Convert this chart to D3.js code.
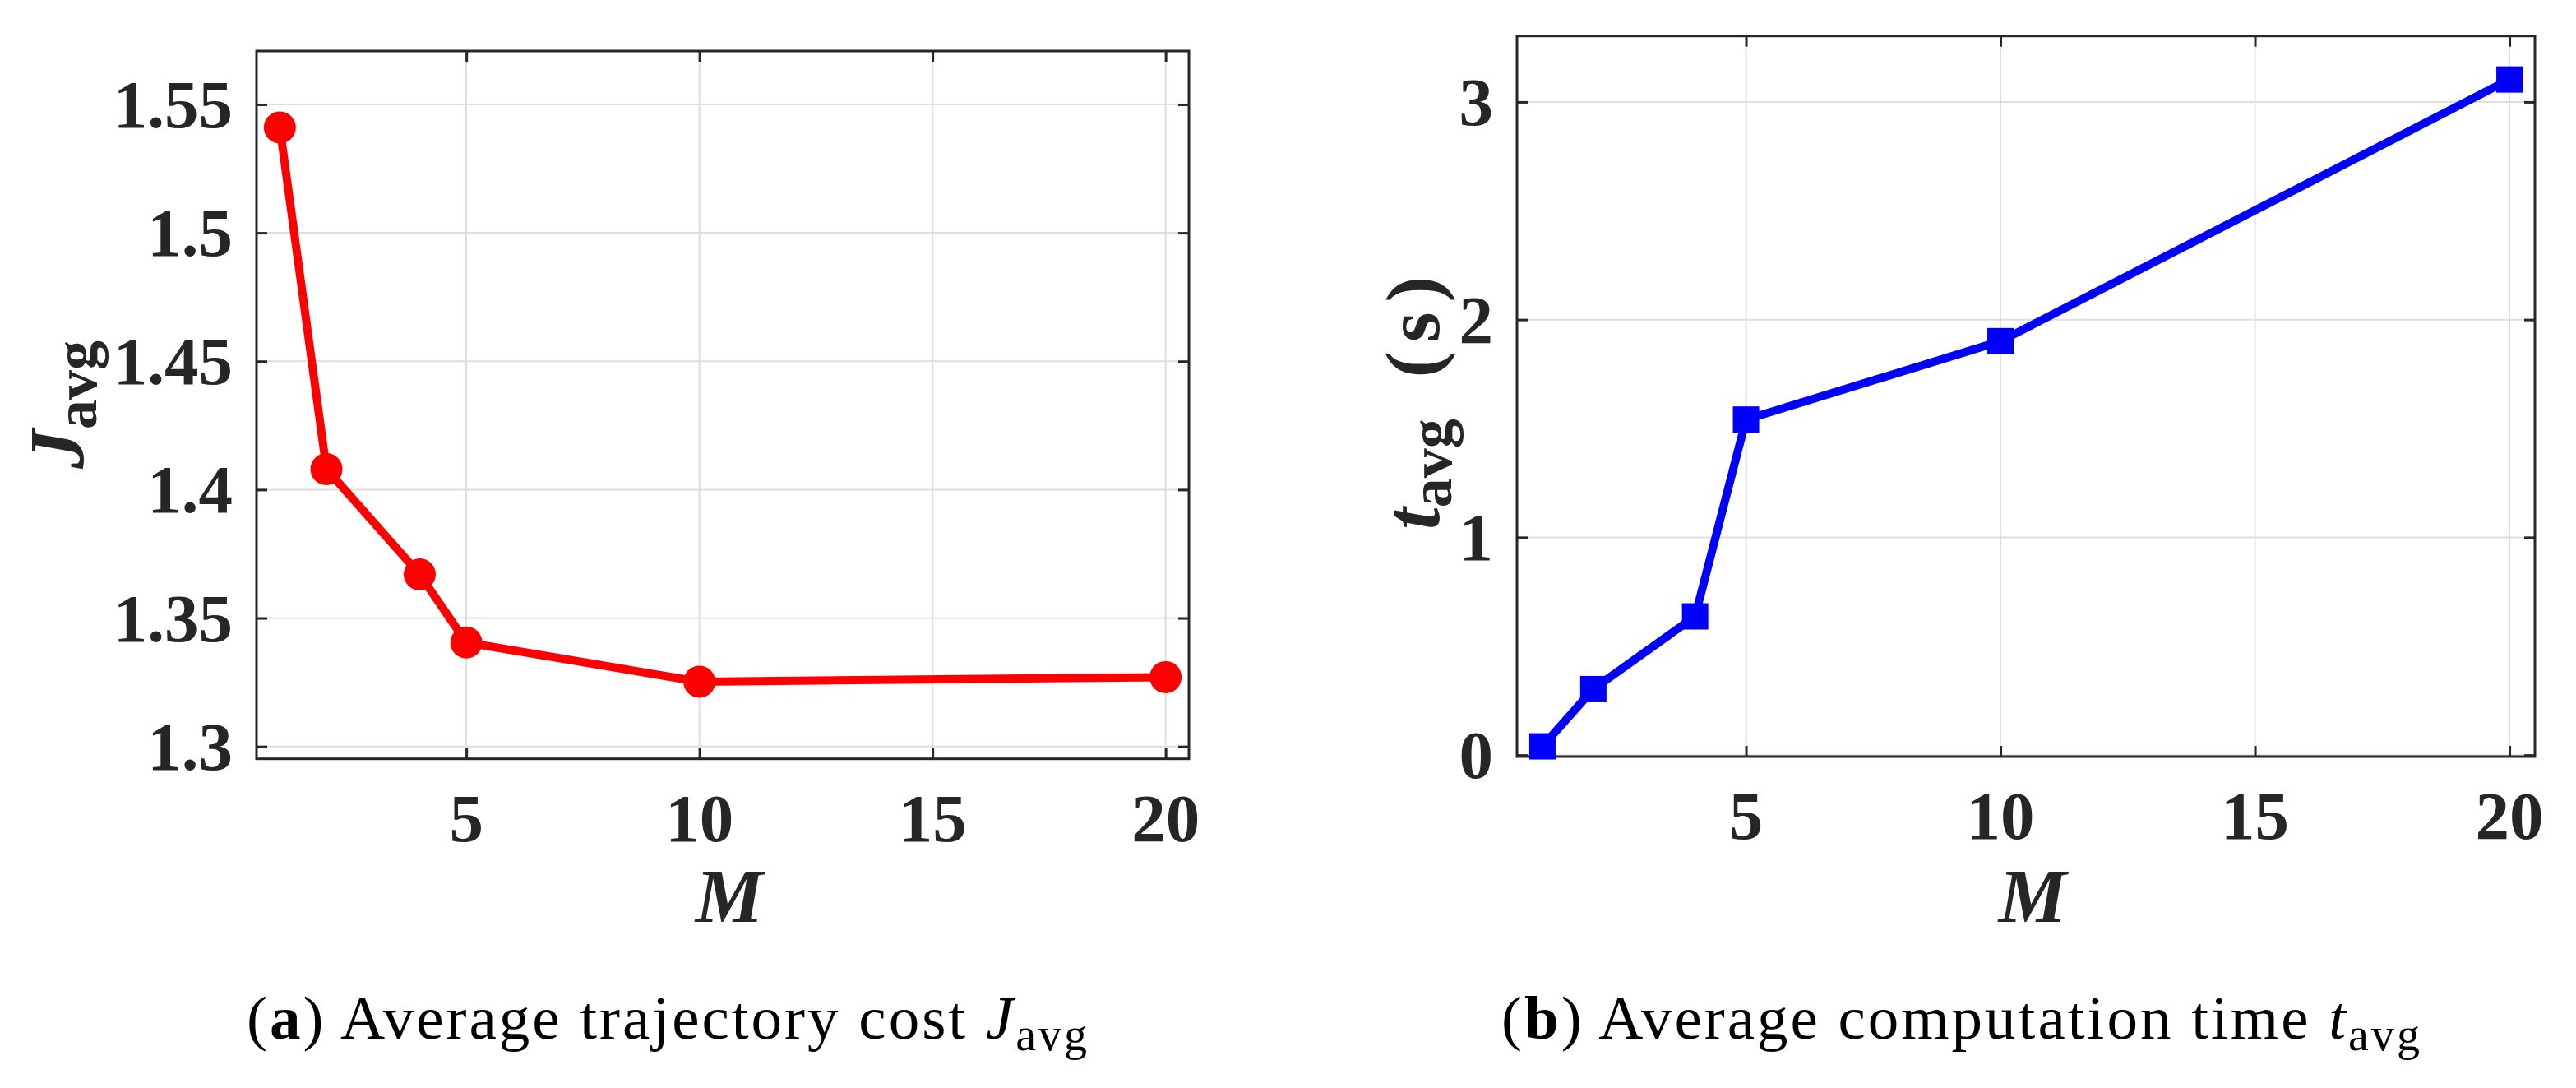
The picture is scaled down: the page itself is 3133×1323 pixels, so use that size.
<!DOCTYPE html>
<html>
<head>
<meta charset="utf-8">
<script src="https://cdn.jsdelivr.net/npm/d3@7"></script>
<style>
  html, body { margin: 0; padding: 0; background: #fff; }
  svg { display: block; }
</style>
</head>
<body>
<svg id="chart" width="3133" height="1323"></svg>
<script>
// ---- data ----
const M = [1, 2, 4, 5, 10, 20];
const Javg = [1.541, 1.408, 1.367, 1.3405, 1.3252, 1.3270];
const tavg = [0.04, 0.303, 0.637, 1.541, 1.901, 3.103];
const xTicks = [5, 10, 15, 20];
const yTicksA = [1.3, 1.35, 1.4, 1.45, 1.5, 1.55];
const yTickLabelsA = ["1.3", "1.35", "1.4", "1.45", "1.5", "1.55"];
const yTicksB = [0, 1, 2, 3];
const yTickLabelsB = ["0", "1", "2", "3"];

const svg = d3.select("#chart");
const TXT = "#262626";
const FONT = "'Liberation Serif', 'Times New Roman', serif";

function panel(cfg) {
  const { left, right, top, bottom, xDomain, yDomain, yTicks, yLabels, data, color, marker } = cfg;
  const x = d3.scaleLinear().domain(xDomain).range([left, right]);
  const y = d3.scaleLinear().domain(yDomain).range([bottom, top]);
  const g = svg.append("g");

  // grid
  g.append("g").selectAll("line.gx").data(xTicks).join("line")
    .attr("x1", d => x(d)).attr("x2", d => x(d))
    .attr("y1", top).attr("y2", bottom)
    .attr("stroke", "#dedede").attr("stroke-width", 2);
  g.append("g").selectAll("line.gy").data(yTicks).join("line")
    .attr("x1", left).attr("x2", right)
    .attr("y1", d => y(d)).attr("y2", d => y(d))
    .attr("stroke", "#dedede").attr("stroke-width", 2);

  // axes via d3 axis (inner ticks)
  const tl = 13;
  const axB = d3.axisBottom(x).tickValues(xTicks).tickSize(-tl).tickFormat("");
  const axT = d3.axisTop(x).tickValues(xTicks).tickSize(-tl).tickFormat("");
  const axL = d3.axisLeft(y).tickValues(yTicks).tickSize(-tl).tickFormat("");
  const axR = d3.axisRight(y).tickValues(yTicks).tickSize(-tl).tickFormat("");
  [[axB, `translate(0,${bottom})`], [axT, `translate(0,${top})`],
   [axL, `translate(${left},0)`], [axR, `translate(${right},0)`]].forEach(([ax, tr]) => {
    const a = g.append("g").attr("transform", tr).call(ax);
    a.select(".domain").remove();
    a.selectAll(".tick line").attr("stroke", TXT).attr("stroke-width", 3);
  });

  // box
  g.append("rect").attr("x", left).attr("y", top)
    .attr("width", right - left).attr("height", bottom - top)
    .attr("fill", "none").attr("stroke", TXT).attr("stroke-width", 3);

  // tick labels
  g.append("g").selectAll("text").data(xTicks).join("text")
    .attr("x", d => x(d)).attr("y", bottom + 100)
    .attr("text-anchor", "middle")
    .attr("font-family", FONT).attr("font-weight", "bold").attr("font-size", 83)
    .attr("fill", TXT).text(d => d);
  g.append("g").selectAll("text").data(yTicks).join("text")
    .attr("x", left - 29).attr("y", d => y(d) + 28)
    .attr("text-anchor", "end")
    .attr("font-family", FONT).attr("font-weight", "bold").attr("font-size", 83)
    .attr("fill", TXT).text((d, i) => yLabels[i]);

  // line
  const pts = M.map((m, i) => [m, data[i]]);
  g.append("path").datum(pts)
    .attr("d", d3.line().x(d => x(d[0])).y(d => y(d[1])))
    .attr("fill", "none").attr("stroke", color).attr("stroke-width", 10)
    .attr("stroke-linejoin", "round");

  if (marker === "circle") {
    g.append("g").selectAll("circle").data(pts).join("circle")
      .attr("cx", d => x(d[0])).attr("cy", d => y(d[1])).attr("r", 19.5)
      .attr("fill", color);
  } else {
    const s = 32;
    g.append("g").selectAll("rect").data(pts).join("rect")
      .attr("x", d => x(d[0]) - s / 2).attr("y", d => y(d[1]) - s / 2)
      .attr("width", s).attr("height", s).attr("fill", color);
  }

  // x label
  g.append("text").attr("x", (left + right) / 2 + 8).attr("y", 1121)
    .attr("text-anchor", "middle")
    .attr("font-family", FONT).attr("font-weight", "bold").attr("font-style", "italic")
    .attr("font-size", 93).attr("fill", TXT).text("M");
  return g;
}

// panel (a)
panel({
  left: 312, right: 1446, top: 62, bottom: 922.7,
  xDomain: [0.5, 20.5], yDomain: [1.2952, 1.5708],
  yTicks: yTicksA, yLabels: yTickLabelsA, data: Javg, color: "#ff0000", marker: "circle"
});
// panel (b)
panel({
  left: 1845, right: 3083, top: 43.7, bottom: 920,
  xDomain: [0.5, 20.5], yDomain: [-0.007, 3.303],
  yTicks: yTicksB, yLabels: yTickLabelsB, data: tavg, color: "#0000ff", marker: "square"
});

// y labels
function yLabel(xPos, yPos, main, sub, tail) {
  const t = svg.append("text")
    .attr("transform", `translate(${xPos},${yPos}) rotate(-90)`)
    .attr("text-anchor", "middle")
    .attr("font-family", FONT).attr("font-weight", "bold").attr("fill", TXT);
  t.append("tspan").attr("font-style", "italic").attr("font-size", 96).text(main);
  t.append("tspan").attr("font-size", 72).attr("dy", 15).text(sub);
  if (tail) t.append("tspan").attr("font-size", 94).attr("dy", -15).attr("dx", 50)
    .attr("letter-spacing", 12).text(tail);
}
yLabel(102, 492, "J", "avg", null);
yLabel(1750, 484, "t", "avg", "(s)");

// captions
const CAP = "'Liberation Serif', 'Times New Roman', serif";
function caption(xPos, letter, body, main, sub) {
  const t = svg.append("text").attr("x", xPos).attr("y", 1263)
    .attr("font-family", CAP).attr("font-size", 75).attr("letter-spacing", 3)
    .attr("fill", "#000");
  t.append("tspan").text("(");
  t.append("tspan").attr("font-weight", "bold").text(letter);
  t.append("tspan").text(") " + body + " ");
  t.append("tspan").attr("font-style", "italic").text(main);
  t.append("tspan").attr("font-size", 56).attr("dy", 14).text(sub);
}
caption(300, "a", "Average trajectory cost", "J", "avg");
caption(1826, "b", "Average computation time", "t", "avg");
</script>
</body>
</html>
